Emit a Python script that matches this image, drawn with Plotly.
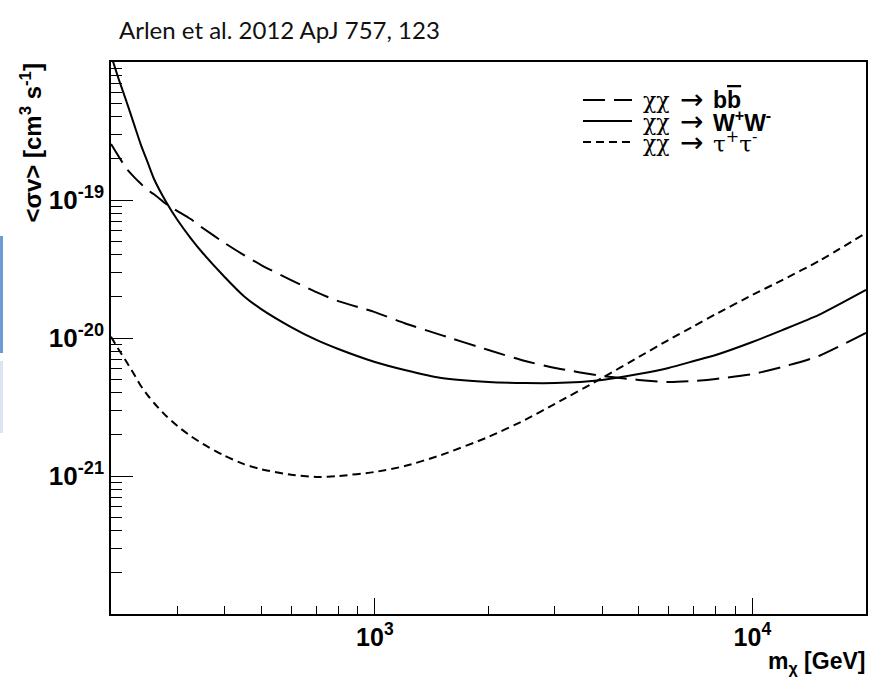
import plotly.graph_objects as go

# Dark-matter annihilation cross-section limits vs. WIMP mass
mass_gev = [200, 210, 220, 230, 240, 250, 260, 280, 300, 325, 350, 400,
            450, 500, 600, 700, 800, 1000, 1200, 1500, 2000, 2500, 3000,
            4000, 5000, 6000, 7000, 8000, 10000, 12000, 15000, 20000]

sigv_bb = [2.55e-19, 2.05e-19, 1.68e-19, 1.47e-19, 1.31e-19, 1.18e-19,
           1.10e-19, 9.35e-20, 8.32e-20, 7.28e-20, 6.27e-20, 4.88e-20,
           3.99e-20, 3.38e-20, 2.63e-20, 2.15e-20, 1.85e-20, 1.54e-20,
           1.28e-20, 1.05e-20, 8.18e-21, 6.81e-21, 6.07e-21, 5.31e-21,
           4.97e-21, 4.80e-21, 4.88e-21, 5.05e-21, 5.48e-21, 6.17e-21,
           7.41e-21, 1.09e-20]

sigv_ww = [1.12e-18, 7.41e-19, 5.13e-19, 3.56e-19, 2.51e-19, 1.88e-19,
           1.42e-19, 9.68e-20, 7.16e-20, 5.30e-20, 4.13e-20, 2.77e-20,
           2.01e-20, 1.62e-20, 1.20e-20, 9.68e-21, 8.32e-21, 6.70e-21,
           5.86e-21, 5.13e-21, 4.80e-21, 4.72e-21, 4.72e-21, 4.97e-21,
           5.48e-21, 6.07e-21, 6.81e-21, 7.53e-21, 9.35e-21, 1.14e-20,
           1.47e-20, 2.23e-20]

sigv_tautau = [1.02e-20, 8.18e-21, 6.70e-21, 5.48e-21, 4.49e-21, 3.86e-21,
               3.38e-21, 2.72e-21, 2.30e-21, 1.95e-21, 1.71e-21, 1.40e-21,
               1.22e-21, 1.12e-21, 1.02e-21, 9.84e-22, 1.00e-21, 1.07e-21,
               1.18e-21, 1.42e-21, 1.92e-21, 2.55e-21, 3.33e-21, 5.13e-21,
               7.28e-21, 9.68e-21, 1.22e-20, 1.49e-20, 2.05e-20, 2.63e-20,
               3.61e-20, 5.77e-20]

# legend: common "χχ →" prefix plus a per-channel final state
channel_initial = "χχ"
channel_arrow = "→"
channel_final = [
    "<b>b<span style=\"text-decoration:overline\">b</span></b>",
    "<b>W<sup>+</sup>W<sup>-</sup></b>",
    "τ<sup>+</sup>τ<sup>-</sup>",
]
channel_final_serif = [False, False, True]
channel_dash = ["22px,9px", "solid", "8px,5px"]

x_major = [1e3, 1e4]
x_major_text = ["10<sup>3</sup>", "10<sup>4</sup>"]
y_major = [1e-21, 1e-20, 1e-19]
y_major_text = ["10<sup>-21</sup>", "10<sup>-20</sup>", "10<sup>-19</sup>"]

x_minor = [m * d for d in (100, 1000) for m in range(2, 10)] + [2e4]
y_minor = [m * 10.0 ** e for e in (-22, -21, -20, -19) for m in range(2, 10)]

W, H = 883, 683
L, R, T, B = 111, 17, 62, 69
PW, PH = W - L - R, H - T - B


def px(x):
    return (x - L) / PW


def py(y):
    return (H - B - y) / PH


fig = go.Figure()
for yvals, dash in zip([sigv_bb, sigv_ww, sigv_tautau], channel_dash):
    fig.add_trace(go.Scatter(
        x=mass_gev, y=yvals, mode="lines", showlegend=False,
        line=dict(color="black", width=2, dash=dash, shape="spline", smoothing=0.6),
    ))

sans = "Liberation Sans"
serif = "DejaVu Serif"
fig.update_layout(
    width=W, height=H,
    margin=dict(l=L, r=R, t=T, b=B),
    paper_bgcolor="white", plot_bgcolor="white",
    xaxis=dict(
        type="log", range=[2.30103, 4.30103],
        showgrid=False, zeroline=False,
        showline=True, mirror=True, linecolor="black", linewidth=1.5,
        ticks="inside", ticklen=16, tickwidth=1, tickcolor="black",
        tickmode="array", tickvals=x_major, ticktext=x_major_text,
        tickfont=dict(family=sans, size=25, color="black", weight="bold"),
        minor=dict(tickmode="array", tickvals=x_minor, ticks="inside",
                   ticklen=8, tickwidth=1, tickcolor="black", showgrid=False),
    ),
    yaxis=dict(
        type="log", range=[-22, -18],
        showgrid=False, zeroline=False,
        showline=True, mirror=True, linecolor="black", linewidth=1.5,
        ticks="inside", ticklen=22, tickwidth=1, tickcolor="black",
        tickmode="array", tickvals=y_major, ticktext=y_major_text,
        tickfont=dict(family=sans, size=26, color="black", weight="bold"),
        minor=dict(tickmode="array", tickvals=y_minor, ticks="inside",
                   ticklen=11, tickwidth=1, tickcolor="black", showgrid=False),
    ),
)

annotations = [
    dict(text="Arlen et al. 2012 ApJ 757, 123", x=px(117), y=py(30),
         xanchor="left", yanchor="middle",
         font=dict(family="Lato", size=24, color="#111111")),
    dict(text="&lt;σv&gt; [cm<sup>3</sup> s<sup>-1</sup>]", textangle=-90,
         x=px(30), y=1.0, xanchor="center", yanchor="top",
         font=dict(family=sans, size=24, color="black", weight="bold")),
    dict(text="m<sub>χ</sub> [GeV]", x=px(867), y=py(662),
         xanchor="right", yanchor="middle",
         font=dict(family=sans, size=23, color="black", weight="bold")),
]

shapes = [
    # slide-edge colour strips
    dict(type="rect", xref="paper", yref="paper", x0=px(0), x1=px(3),
         y0=py(353), y1=py(236), fillcolor="#6b9bd2", line=dict(width=0)),
    dict(type="rect", xref="paper", yref="paper", x0=px(0), x1=px(3),
         y0=py(433), y1=py(361), fillcolor="#dce4f2", line=dict(width=0)),
]

legend_rows = [100, 121, 142]
for final, is_serif, dash, row in zip(channel_final, channel_final_serif,
                                      channel_dash, legend_rows):
    shapes.append(dict(type="line", xref="paper", yref="paper",
                       x0=px(583), x1=px(632), y0=py(row), y1=py(row),
                       line=dict(color="black", width=2, dash=dash)))
    annotations.append(dict(text=channel_initial, x=px(641), y=py(row + 1),
                            xanchor="left", yanchor="middle",
                            font=dict(family=serif, size=22, color="black")))
    annotations.append(dict(text=channel_arrow, x=px(678), y=py(row),
                            xanchor="left", yanchor="middle",
                            font=dict(family="DejaVu Sans", size=28, color="black")))
    annotations.append(dict(text=final, x=px(711), y=py(row),
                            xanchor="left", yanchor="middle",
                            font=dict(family=serif if is_serif else sans,
                                      size=23, color="black")))

for a in annotations:
    a.update(xref="paper", yref="paper", showarrow=False)

fig.update_layout(annotations=annotations, shapes=shapes)
fig.write_html("out.html")
